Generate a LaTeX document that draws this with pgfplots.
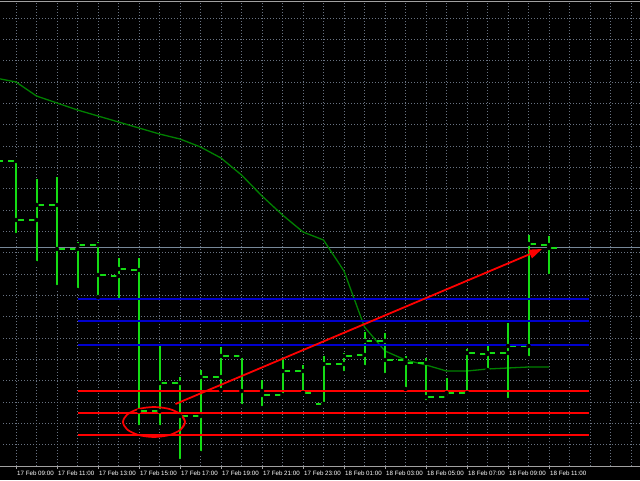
\documentclass[border=0pt]{standalone}
\usepackage{fontspec}
\setmainfont{Liberation Sans}
\usepackage{pgfplots}
\pgfplotsset{compat=1.18}
\usepackage{pgfplotstable}
\usetikzlibrary{arrows.meta,backgrounds}
\definecolor{barc}{RGB}{20,220,20}
\definecolor{mac}{RGB}{0,128,0}
\definecolor{gridc}{RGB}{105,115,130}
\definecolor{axisc}{RGB}{160,160,160}
\definecolor{bidc}{RGB}{119,136,153}
\definecolor{bluec}{RGB}{0,0,205}
\definecolor{redc}{RGB}{255,0,0}

\pgfplotstableread{
h O H L C
8 319 330 305 319
9 319 321 245 260
10 260 301 217 275
11 275 303 193 231
12 231 238 190 235
13 235 238 183 205
14 204 222 178 211
15 210 222 53 69
16 69 134 53 97
17 97 103 19 64
18 64 110 27 103
19 103 133 90 124
20 124 126 74 89
21 89 100 72 85
22 85 122 83 109
23 109 115 87 87
24 76 124 76 116
25 116 127 107 124
26 125 148 113 139
27 139 147 105 120
28 120 124 91 117
29 117 122 78 83
30 83 102 80 87
31 87 131 85 127
32 126 134 110 127
33 127 157 80 134
34 134 245 122 236
35 235 244 204 232
}\bars

\pgfplotstableread{
h M
8 402
9 398
10 384
11 377
12 370
13 364
14 358
15 352
16 346
17 341
18 333
19 322
20 305
21 284
22 265
23 248
24 240
25 209
26 153
27 129
28 120
29 115
30 109
31 109
32 111
33 112
34 113
35 113
}\ma

\begin{document}
\begin{tikzpicture}
\begin{axis}[
  width=640pt, height=464pt, scale only axis,
  xmin=8.21951, xmax=39.43902, ymin=14, ymax=478,
  separate axis lines,
  x axis line style={color=axisc, line width=1pt},
  y axis line style={draw=none},
  xtick={9,11,...,35},
  xticklabels={17 Feb 09:00,17 Feb 11:00,17 Feb 13:00,17 Feb 15:00,17 Feb 17:00,17 Feb 19:00,17 Feb 21:00,17 Feb 23:00,18 Feb 01:00,18 Feb 03:00,18 Feb 05:00,18 Feb 07:00,18 Feb 09:00,18 Feb 11:00},
  minor xtick={8,10,12,14,16,18,20,22,24,26,28,30,32,34,36,37,38,39},
  ytick=\empty,
  xmajorgrids, xminorgrids,
  major grid style={gridc, line width=0.8pt, dash pattern=on 1.2pt off 1.8pt},
  minor grid style={gridc, line width=0.8pt, dash pattern=on 1.2pt off 1.8pt},
  xtick pos=left, tick align=outside,
  major tick length=3pt, minor tick length=0pt,
  xtick style={axisc, line width=0.8pt},
  xticklabel style={anchor=north west, inner sep=0pt, xshift=1pt, yshift=-1.5pt, font=\fontsize{6.2}{7}\selectfont, text=white},
]
% horizontal grid lines
\addplot[only marks, mark=none, error bars/.cd, x dir=plus, x fixed=31.22, error mark=none,
  error bar style={gridc, line width=0.8pt, dash pattern=on 1.2pt off 1.8pt}]
  coordinates {(8.21951,462) (8.21951,440.67) (8.21951,419.33) (8.21951,398) (8.21951,376.67)
  (8.21951,355.33) (8.21951,334) (8.21951,312.67) (8.21951,291.33) (8.21951,270)
  (8.21951,248.67) (8.21951,227.33) (8.21951,206) (8.21951,184.67) (8.21951,163.33)
  (8.21951,142) (8.21951,120.67) (8.21951,99.33) (8.21951,78) (8.21951,56.67) (8.21951,35.33)};
% bid line
\addplot[bidc, line width=1pt] coordinates {(8.21951,232.5) (39.43902,232.5)};
% moving average
\addplot[mac, line width=1.3pt] table[x=h, y=M] {\ma};
% bars: high-low
\addplot[only marks, mark=none, error bars/.cd, y dir=plus, y explicit, error mark=none,
  error bar style={barc, line width=2pt}]
  table[x=h, y=L, y error plus expr=\thisrow{H}-\thisrow{L}] {\bars};
% open ticks
\addplot[only marks, mark=none, error bars/.cd, x dir=minus, x fixed=0.37, error mark=none,
  error bar style={barc, line width=1.8pt}]
  table[x=h, y=O] {\bars};
% close ticks
\addplot[only marks, mark=none, error bars/.cd, x dir=plus, x fixed=0.37, error mark=none,
  error bar style={barc, line width=1.8pt}]
  table[x=h, y=C] {\bars};
% blue levels
\addplot[bluec, line width=1.8pt] coordinates {(12,181) (36.95,181)};
\addplot[bluec, line width=1.8pt] coordinates {(12,159) (36.95,159)};
\addplot[bluec, line width=1.8pt] coordinates {(12,135) (36.95,135)};
% red levels
\addplot[redc, line width=1.5pt] coordinates {(12,89) (36.95,89)};
\addplot[redc, line width=1.5pt] coordinates {(12,67) (36.95,67)};
\addplot[redc, line width=1.5pt] coordinates {(12,45) (36.95,45)};
% arrow
\addplot[redc, line width=1.8pt, -{Triangle[length=13pt,width=9pt]}] coordinates {(16.78,76) (34.66,231)};
% ellipse
\addplot[redc, line width=1.7pt, smooth] coordinates {
(17.041,50.5) (17.244,58) (17.041,65.5) (16.488,71) (15.732,73) (14.976,71)
(14.423,65.5) (14.220,58) (14.423,50.5) (14.976,45) (15.732,43) (16.488,45)
(17.041,50.5) (17.244,58) (17.041,65.5)};
\node[anchor=north west, inner sep=0pt, xshift=1pt, yshift=-4.5pt, font=\fontsize{6.2}{7}\selectfont, text=white] at (axis cs:7,14) {17 Feb 07:00};
\coordinate (bl) at (axis cs:8.21951,0);
\coordinate (tr) at (axis cs:39.43902,480);
\end{axis}
\pgfresetboundingbox
\begin{scope}[on background layer]
\fill[black] (bl) rectangle (tr);
\end{scope}
\useasboundingbox (bl) rectangle (tr);
\end{tikzpicture}
\end{document}
